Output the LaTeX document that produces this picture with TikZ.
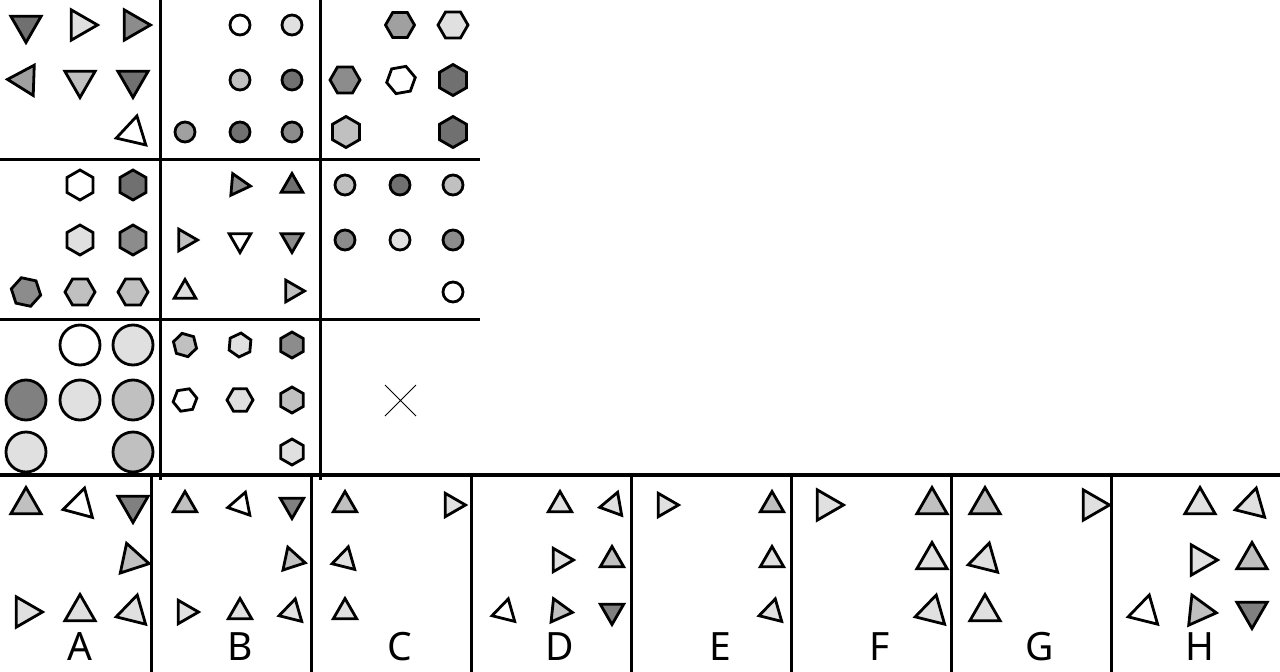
\documentclass[tikz,border=0pt]{standalone}
\usepackage{fontspec}
\usepackage{tikz}
\usetikzlibrary{shapes.geometric}
\newfontfamily\labelfont{Noto Sans}
\definecolor{shadelite}{HTML}{E0E0E0}
\definecolor{shadepale}{HTML}{C0C0C0}
\definecolor{shademid}{HTML}{A0A0A0}
\definecolor{shadegrey}{HTML}{8C8C8C}
\definecolor{shadedim}{HTML}{808080}
\definecolor{shadedark}{HTML}{707070}

\begin{document}
\begin{tikzpicture}[x=1pt, y=-1pt,
    tri/.style={regular polygon, regular polygon sides=3, draw, line width=2.8pt, fill=#1, inner sep=0pt, minimum size=35pt},
    smalltri/.style={tri=#1, minimum size=27pt},
    hexa/.style={regular polygon, regular polygon sides=6, draw, line width=2.8pt, fill=#1, inner sep=0pt, minimum size=29pt},
    disc/.style={circle, draw, line width=2.8pt, fill=#1, inner sep=0pt, minimum size=20pt},
    sepline/.style={line width=3pt},
    letter/.style={font=\labelfont\fontsize{39}{40}\selectfont, inner sep=0pt},
]
    \useasboundingbox[fill=white] (0,0) rectangle (1280,672);

    \node[tri=shadedark, rotate=180] (p11a) at (26,25) {};
    \node[tri=shadelite, rotate=-90] (p11b) at (80,25) {};
    \node[tri=shadegrey, rotate=-90] (p11c) at (133,25) {};
    \node[tri=shademid, rotate=88] (p11d) at (25,80) {};
    \node[tri=shadepale, rotate=180] (p11e) at (80,80) {};
    \node[tri=shadedark, rotate=180] (p11f) at (133,80) {};
    \node[tri=white, rotate=-13] (p11g) at (133,133) {};

    \node[disc=white] (p12a) at (240,25) {};
    \node[disc=shadelite] (p12b) at (292,25) {};
    \node[disc=shadepale] (p12c) at (240,80) {};
    \node[disc=shadedark] (p12d) at (292,80) {};
    \node[disc=shademid] (p12e) at (185,132) {};
    \node[disc=shadedark] (p12f) at (240,132) {};
    \node[disc=shadegrey] (p12g) at (292,132) {};

    \node[hexa=shademid] (p13a) at (400,25) {};
    \node[hexa=shadelite, minimum size=30pt] (p13b) at (453,25) {};
    \node[hexa=shadegrey, minimum size=30pt] (p13c) at (345,80) {};
    \node[hexa=white, rotate=10] (p13d) at (401,80) {};
    \node[hexa=shadedark, rotate=30, minimum size=31pt] (p13e) at (453,80) {};
    \node[hexa=shadepale, rotate=30, minimum size=31pt] (p13f) at (346,132) {};
    \node[hexa=shadedark, rotate=30, minimum size=31pt] (p13g) at (453,132) {};

    \node[hexa=white, rotate=30, minimum size=30pt] (p21a) at (80,185) {};
    \node[hexa=shadedark, rotate=30, minimum size=30pt] (p21b) at (133,185) {};
    \node[hexa=shadelite, rotate=30, minimum size=30pt] (p21c) at (80,240) {};
    \node[hexa=shadegrey, rotate=30, minimum size=30pt] (p21d) at (133,240) {};
    \node[hexa=shadegrey, rotate=-12, minimum size=30pt] (p21e) at (26,292) {};
    \node[hexa=shadepale, minimum size=30pt] (p21f) at (80,292) {};
    \node[hexa=shadepale, minimum size=30pt] (p21g) at (133,292) {};

    \node[tri=shadegrey, rotate=-95, minimum size=25pt] (p22a) at (238,185) {};
    \node[tri=shadedark, minimum size=25pt] (p22b) at (292,186) {};
    \node[tri=shadepale, rotate=-90, minimum size=25pt] (p22c) at (185,240) {};
    \node[tri=white, rotate=180, minimum size=25pt] (p22d) at (240,240) {};
    \node[tri=shadegrey, rotate=180, minimum size=25pt] (p22e) at (292,240) {};
    \node[tri=shadelite, minimum size=25pt] (p22f) at (185,292) {};
    \node[tri=shadepale, rotate=-90, minimum size=25pt] (p22g) at (292,291) {};

    \node[disc=shadepale] (p23a) at (345,185) {};
    \node[disc=shadedark] (p23b) at (400,185) {};
    \node[disc=shadepale] (p23c) at (453,185) {};
    \node[disc=shadegrey] (p23d) at (345,240) {};
    \node[disc=shadelite] (p23e) at (400,240) {};
    \node[disc=shadegrey] (p23f) at (453,240) {};
    \node[disc=white] (p23g) at (453,292) {};

    \node[disc=white, minimum size=40pt] (p31a) at (80,345) {};
    \node[disc=shadelite, minimum size=40pt] (p31b) at (133,345) {};
    \node[disc=shadedim, minimum size=40pt] (p31c) at (26,400) {};
    \node[disc=shadelite, minimum size=40pt] (p31d) at (80,400) {};
    \node[disc=shadepale, minimum size=40pt] (p31e) at (133,400) {};
    \node[disc=shadelite, minimum size=40pt] (p31f) at (26,452) {};
    \node[disc=shadepale, minimum size=40pt] (p31g) at (133,452) {};

    \node[hexa=shadepale, rotate=-16, minimum size=24pt] (p32a) at (185,345) {};
    \node[hexa=shadelite, rotate=25, minimum size=24pt] (p32b) at (240,345) {};
    \node[hexa=shadegrey, rotate=30, minimum size=26pt] (p32c) at (292,345) {};
    \node[hexa=white, rotate=9, minimum size=24pt] (p32d) at (185,400) {};
    \node[hexa=shadelite, minimum size=26pt] (p32e) at (240,400) {};
    \node[hexa=shadepale, rotate=30, minimum size=26pt] (p32f) at (292,400) {};
    \node[hexa=shadelite, rotate=30, minimum size=26pt] (p32g) at (292,452) {};

    \coordinate (q1) at (385,385);
    \coordinate (q2) at (416,416);
    \coordinate (q3) at (385,416);
    \coordinate (q4) at (416,385);
    \draw[line width=0.8pt] (q1) -- (q2) (q3) -- (q4);

    \draw[sepline] (160.5,0) -- (160.5,480);
    \draw[sepline] (320.5,0) -- (320.5,480);
    \draw[line width=2.5pt] (0,159.5) -- (480,159.5);
    \draw[line width=2.5pt] (0,319.5) -- (480,319.5);
    \draw[line width=4pt] (0,475) -- (1280,475);
    \foreach \x in {151.5, 311.5, 471.5, 631.5, 791.5, 951.5, 1111.5}
        \draw[sepline] (\x,477) -- (\x,672);

    \node[tri=shadepale] (a1) at (26,505) {};
    \node[tri=white, rotate=-15] (a2) at (80,505) {};
    \node[tri=shadedim, rotate=180] (a3) at (133,505) {};
    \node[tri=shadepale, rotate=-102] (a4) at (132,560) {};
    \node[tri=shadelite, rotate=-90] (a5) at (25,612) {};
    \node[tri=shadelite] (a6) at (80,612) {};
    \node[tri=shadelite, rotate=-14] (a7) at (133,612) {};

    \node[smalltri=shadepale] (b1) at (185,505) {};
    \node[smalltri=white, rotate=-19] (b2) at (241,505) {};
    \node[smalltri=shadedim, rotate=180] (b3) at (292,505) {};
    \node[smalltri=shadepale, rotate=-102] (b4) at (292,560) {};
    \node[smalltri=shadelite, rotate=-90] (b5) at (185,612) {};
    \node[smalltri=shadelite] (b6) at (240,612) {};
    \node[smalltri=shadelite, rotate=-14] (b7) at (292,612) {};

    \node[smalltri=shadepale] (c1) at (345,505) {};
    \node[smalltri=shadelite, rotate=-90] (c2) at (452,505) {};
    \node[smalltri=shadelite, rotate=-14] (c3) at (345,560) {};
    \node[smalltri=shadelite] (c4) at (345,612) {};

    \node[smalltri=shadelite] (d1) at (560,505) {};
    \node[smalltri=shadelite, rotate=-20] (d2) at (613,505) {};
    \node[smalltri=shadelite, rotate=-90] (d3) at (560,560) {};
    \node[smalltri=shadepale] (d4) at (612,560) {};
    \node[smalltri=white, rotate=-14] (d5) at (505,612) {};
    \node[smalltri=shadepale, rotate=-96] (d6) at (559,611) {};
    \node[smalltri=shadedim, rotate=180] (d7) at (612,611) {};

    \node[smalltri=shadelite, rotate=-90] (e1) at (665,505) {};
    \node[smalltri=shadepale] (e2) at (772,505) {};
    \node[smalltri=shadelite] (e3) at (772,560) {};
    \node[smalltri=shadelite, rotate=-14] (e4) at (772,612) {};

    \node[tri=shadelite, rotate=-90] (f1) at (826,505) {};
    \node[tri=shadepale] (f2) at (932,505) {};
    \node[tri=shadelite] (f3) at (932,560) {};
    \node[tri=shadelite, rotate=-14] (f4) at (932,612) {};

    \node[tri=shadepale] (g1) at (985,505) {};
    \node[tri=shadelite, rotate=-90] (g2) at (1092,505) {};
    \node[tri=shadelite, rotate=-14] (g3) at (985,560) {};
    \node[tri=shadelite] (g4) at (985,612) {};

    \node[tri=shadelite] (h1) at (1200,505) {};
    \node[tri=shadelite, rotate=-14] (h2) at (1252,505) {};
    \node[tri=shadelite, rotate=-90] (h3) at (1200,560) {};
    \node[tri=shadepale] (h4) at (1252,560) {};
    \node[tri=white, rotate=-14] (h5) at (1145,612) {};
    \node[tri=shadepale, rotate=-96] (h6) at (1199,611) {};
    \node[tri=shadedim, rotate=180] (h7) at (1252,611) {};

    \node[letter] (la) at (80,647) {A};
    \node[letter] (lb) at (240,647) {B};
    \node[letter] (lc) at (400,647) {C};
    \node[letter] (ld) at (560,647) {D};
    \node[letter] (le) at (720,647) {E};
    \node[letter] (lf) at (880,647) {F};
    \node[letter] (lg) at (1040,647) {G};
    \node[letter] (lh) at (1200,647) {H};
\end{tikzpicture}
\end{document}
